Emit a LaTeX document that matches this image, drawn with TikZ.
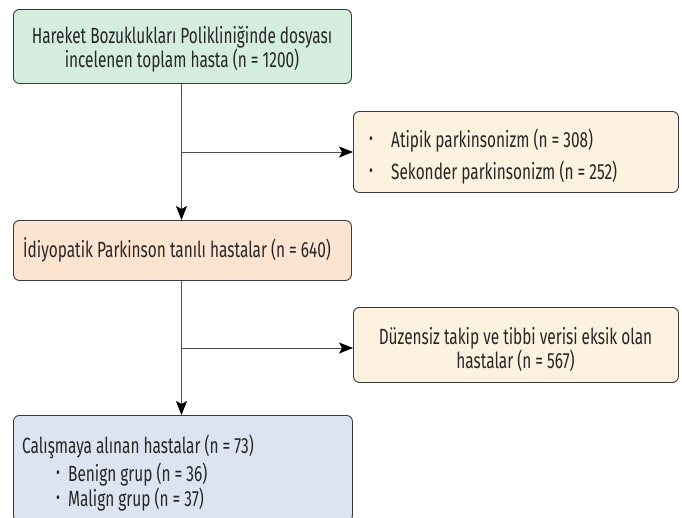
\documentclass[tikz,border=0pt]{standalone}
\usepackage{fontspec}
\setmainfont[FakeStretch=0.7]{Fira Sans}
\usetikzlibrary{arrows.meta}
\definecolor{gfill}{HTML}{D5EDDF}
\definecolor{cfill}{HTML}{FDF2E0}
\definecolor{pfill}{HTML}{FDE4D1}
\definecolor{bfill}{HTML}{DBE4F0}
\definecolor{edge}{HTML}{3A3A3A}
\definecolor{wire}{HTML}{505050}
\tikzset{
  box/.style={draw=edge, line width=0.9pt, rounded corners=6pt, inner sep=0pt, anchor=north west},
  conn/.style={draw=wire, line width=1pt, -{Stealth[length=14pt,width=11pt,inset=3pt,color=black]}},
  txt/.style={font=\fontsize{22}{23}\selectfont, inner sep=0pt, text=black!85},
  bul/.style={font=\fontsize{17}{17}\selectfont, inner sep=0pt, text=black!85},
}
\begin{document}
\begin{tikzpicture}[x=1pt,y=-1pt]
\useasboundingbox (0,0) rectangle (682,517);
% boxes
\node[box, fill=gfill, minimum width=338pt, minimum height=74pt] (b1) at (13,9) {};
\node[txt, align=center] (b1t) at (182,49.5)
  {Hareket Bozuklukları Polikliniğinde dosyası\\incelenen toplam hasta (n = 1200)};
\node[box, fill=cfill, minimum width=325pt, minimum height=81pt] (ba) at (353,111) {};
\node[bul] (ba1) at (371,141) {•};
\node[txt, anchor=west] (ba1t) at (391,141) {Atipik parkinsonizm (n = 308)};
\node[bul] (ba2) at (371,173) {•};
\node[txt, anchor=west] (ba2t) at (391,173) {Sekonder parkinsonizm (n = 252)};
\node[box, fill=pfill, minimum width=338pt, minimum height=60pt] (b2) at (13,220) {};
\node[txt, anchor=west] (b2t) at (23,250) {İdiyopatik Parkinson tanılı hastalar (n = 640)};
\node[box, fill=cfill, minimum width=325pt, minimum height=75pt] (bb) at (353,307) {};
\node[txt, align=center] (bbt) at (515.5,349.5)
  {Düzensiz takip ve tibbi verisi eksik olan\\hastalar (n = 567)};
\node[box, fill=bfill, minimum width=339pt, minimum height=106pt] (b3) at (13,415) {};
\node[txt, anchor=west] (b3t) at (22,447) {Calışmaya alınan hastalar (n = 73)};
\node[bul] (b31) at (58,475) {•};
\node[txt, anchor=west] (b31t) at (68,475) {Benign grup (n = 36)};
\node[bul] (b32) at (58,500) {•};
\node[txt, anchor=west] (b32t) at (68,500) {Malign grup (n = 37)};
% connectors
\coordinate (j1) at (181.5,152);
\coordinate (j2) at (181.5,348);
\draw[conn] (b1.south -| j1) -- (b2.north -| j1);
\draw[conn] (j1) -- (ba.west |- j1);
\draw[conn] (b2.south -| j2) -- (b3.north -| j2);
\draw[conn] (j2) -- (bb.west |- j2);
\end{tikzpicture}
\end{document}
